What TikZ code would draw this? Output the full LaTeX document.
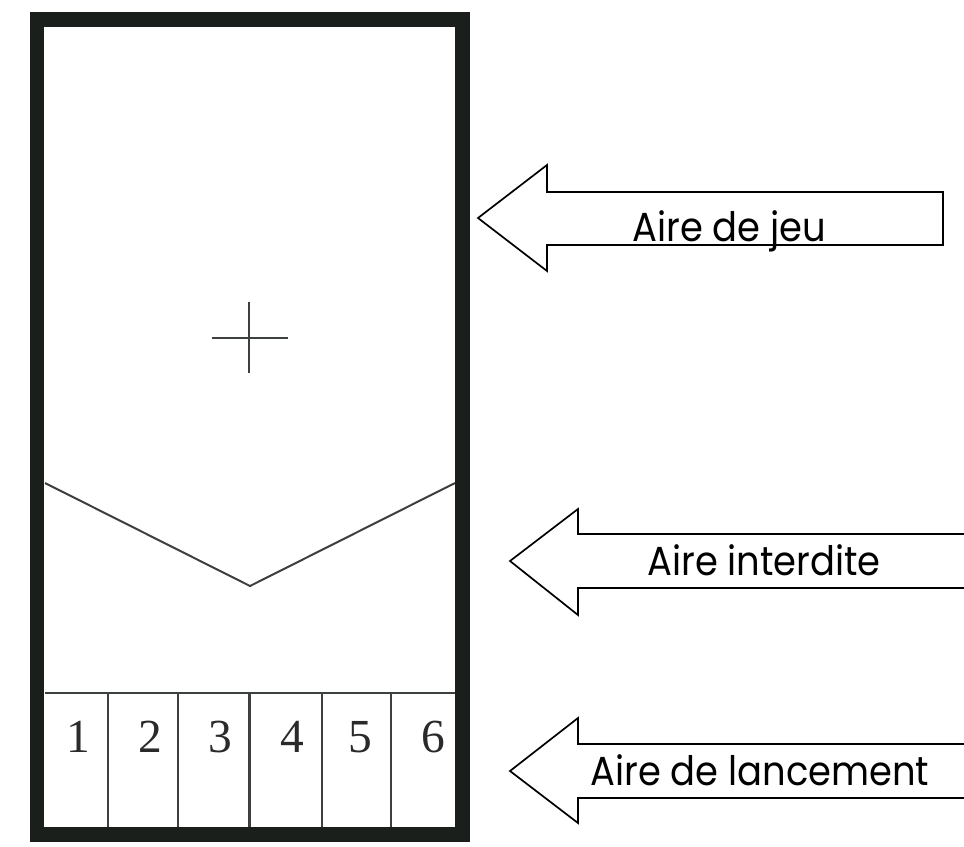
\documentclass[tikz,border=0pt]{standalone}
\usepackage{fontspec}
\newfontfamily\gothic{Poppins}
\newfontfamily\serifnum{Liberation Serif}
\usetikzlibrary{positioning}
\definecolor{framecol}{HTML}{1B1F1B}
\definecolor{numcol}{HTML}{2A2A2A}

\begin{document}
\begin{tikzpicture}[x=0.02cm,y=-0.02cm]
    \tikzset{frame/.style = {draw=framecol, line width=0.3cm, line join=miter}}
    \tikzset{thinline/.style = {draw=framecol!85, line width=0.04cm}}
    \tikzset{lanenum/.style = {anchor=base, text=numcol, font=\serifnum\fontsize{27}{27}\selectfont, inner sep=0pt}}
    \tikzset{bigarrow/.style = {draw=black, fill=white, line width=0.034cm, line join=miter}}
    \tikzset{arrowlabel/.style = {anchor=base west, font=\gothic\fontsize{21}{21}\selectfont, inner sep=0pt, yscale=1.1}}

    \useasboundingbox (0,0) rectangle (964,846);

    % terrain
    \draw[thinline] (45,483) -- (250,586) -- (455,483);
    \draw[thinline] (212,338) -- (288,338);
    \draw[thinline] (249,302) -- (249,373);
    \draw[thinline] (45,693) -- (455,693);
    \foreach \xx in {108,178,322,391}
        \draw[thinline] (\xx,693) -- (\xx,827);
    \draw[thinline, line width=0.06cm] (249,693) -- (249,827);
    \draw[frame] (37,19) rectangle (462,834);

    \node[lanenum] (n1) at (78,752) {1};
    \node[lanenum] (n2) at (150,752) {2};
    \node[lanenum] (n3) at (220,752) {3};
    \node[lanenum] (n4) at (292,752) {4};
    \node[lanenum] (n5) at (360,752) {5};
    \node[lanenum] (n6) at (433,752) {6};

    % fleches
    \draw[bigarrow] (943,192) -- (547,192) -- (547,165) -- (478,218) -- (547,271) -- (547,245) -- (943,245) -- cycle;
    \fill[white] (578,534) rectangle (964,588);
    \draw[bigarrow] (964,534) -- (578,534) -- (578,509) -- (510,561) -- (578,615) -- (578,588) -- (964,588);
    \draw[bigarrow] (964,744) -- (578,744) -- (578,718) -- (510,771) -- (578,823) -- (578,798) -- (964,798);

    \node[arrowlabel] (jeu) at (632,241) {Aire de jeu};
    \node[arrowlabel] (interdite) at (647,575) {Aire interdite};
    \node[arrowlabel] (lancement) at (590,785) {Aire de lancement};
\end{tikzpicture}
\end{document}
